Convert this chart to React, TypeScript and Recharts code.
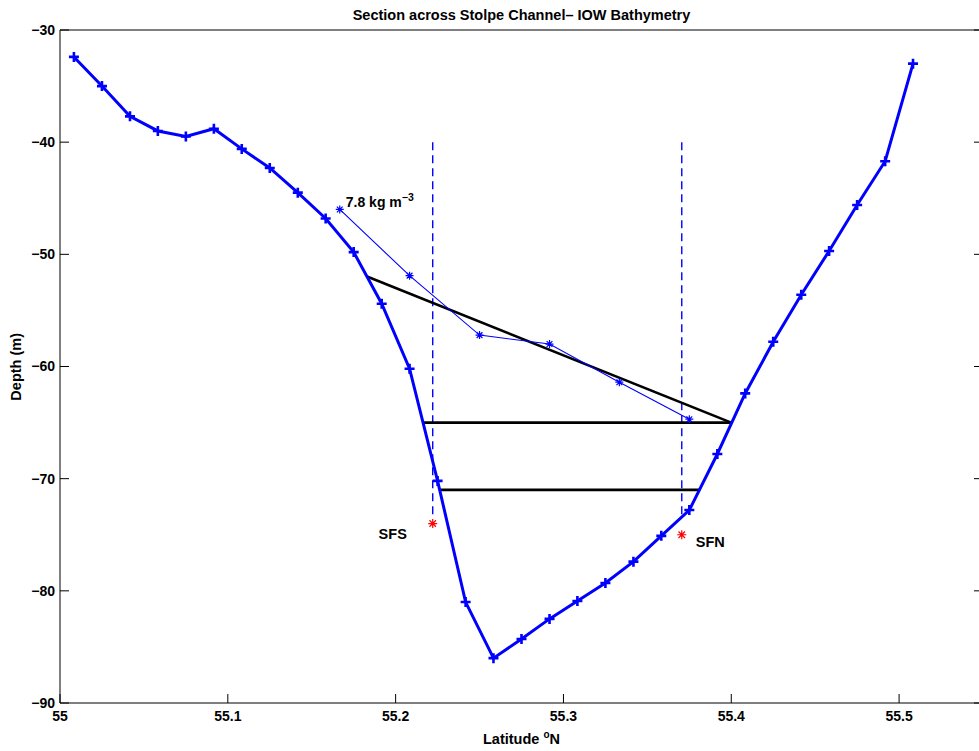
import React from 'react';
import { ComposedChart, Line, XAxis, YAxis, ReferenceDot } from 'recharts';

const FONT = '"Liberation Sans", Arial, Helvetica, sans-serif';

// Bathymetry section (latitude °N, depth m)
const bathyLat = [55.0083, 55.025, 55.0417, 55.0583, 55.075, 55.0917, 55.1083, 55.125, 55.1417, 55.1583, 55.175, 55.1917, 55.2083, 55.225, 55.2417, 55.2583, 55.275, 55.2917, 55.3083, 55.325, 55.3417, 55.3583, 55.375, 55.3917, 55.4083, 55.425, 55.4417, 55.4583, 55.475, 55.4917, 55.5083];
const bathyDepth = [-32.4, -35.0, -37.7, -39.0, -39.5, -38.8, -40.6, -42.3, -44.5, -46.8, -49.8, -54.4, -60.2, -70.2, -81.0, -86.0, -84.3, -82.5, -80.9, -79.3, -77.4, -75.1, -72.8, -67.8, -62.4, -57.8, -53.6, -49.7, -45.6, -41.7, -33.0];

// 7.8 kg m-3 isopycnal
const densLat = [55.1667, 55.2083, 55.25, 55.2917, 55.3333, 55.375];
const densDepth = [-46.0, -51.9, -57.2, -58.0, -61.4, -64.7];

// Black schematic lines
const slopeLat = [55.1833, 55.4];
const slopeDepth = [-52.0, -65.0];
const level1Lat = [55.2167, 55.4];
const level1Depth = [-65.0, -65.0];
const level2Lat = [55.2267, 55.381];
const level2Depth = [-71.0, -71.0];

// Stations
const stationNames = ['SFS', 'SFN'];
const stationLat = [55.2221, 55.3705];
const stationDepth = [-74.0, -75.0];
const dashTop = [-40.0, -40.0];
const dashBottom = [-73.6, -73.3];

const xTicks = [55, 55.1, 55.2, 55.3, 55.4, 55.5];
const yTicks = [-90, -80, -70, -60, -50, -40, -30];

const zip = (lat: number[], dep: number[]) => lat.map((l, i) => ({ lat: l, depth: dep[i] }));
const bathy = zip(bathyLat, bathyDepth);
const dens = zip(densLat, densDepth);
const slope = zip(slopeLat, slopeDepth);
const level1 = zip(level1Lat, level1Depth);
const level2 = zip(level2Lat, level2Depth);
const stations = zip(stationLat, stationDepth);
const dashes = stationLat.map((l, i) => [
  { lat: l, depth: dashTop[i] },
  { lat: l, depth: dashBottom[i] },
]);

const plusDot = (props: any) => {
  const { cx, cy, index } = props;
  if (cx == null || cy == null) return <g key={index} />;
  const r = 5;
  return (
    <path key={index} d={`M${cx - r},${cy}H${cx + r}M${cx},${cy - r}V${cy + r}`} stroke="#0000ff" strokeWidth={2.6} fill="none" />
  );
};

const starDot = (color: string, r: number) => (props: any) => {
  const { cx, cy, index } = props;
  if (cx == null || cy == null) return <g key={index} />;
  const d = r * 0.72;
  return (
    <path
      key={index}
      d={`M${cx - r},${cy}H${cx + r}M${cx},${cy - r}V${cy + r}M${cx - d},${cy - d}L${cx + d},${cy + d}M${cx - d},${cy + d}L${cx + d},${cy - d}`}
      stroke={color}
      strokeWidth={1.2}
      fill="none"
    />
  );
};

const xFmt = (v: number) => (Number.isInteger(v) ? String(v) : v.toFixed(1));
const yFmt = (v: number) => (v < 0 ? '\u2212' + String(Math.abs(v)) : String(v));
const empty = () => '';

const tickStyle = { fill: '#000', fontSize: 14, fontWeight: 'bold', fontFamily: FONT };
const textStyle: any = { fill: '#000', fontSize: 14.5, fontWeight: 'bold', fontFamily: FONT };

export default function App() {
  return (
    <div style={{ position: 'fixed', left: 0, top: 0, width: 979, height: 751, overflow: 'hidden', background: '#fff' }}>
      <ComposedChart width={1000} height={751} margin={{ top: 29, right: 16, bottom: 47, left: 59 }}>
        <XAxis
          xAxisId={0}
          dataKey="lat"
          type="number"
          domain={[55, 55.55]}
          allowDataOverflow
          ticks={xTicks}
          tickFormatter={xFmt}
          height={1}
          tickSize={-9}
          tickMargin={17}
          stroke="#000"
          tick={tickStyle}
        />
        <XAxis
          xAxisId="top"
          orientation="top"
          type="number"
          domain={[55, 55.55]}
          allowDataOverflow
          ticks={xTicks}
          tickFormatter={empty}
          height={1}
          tickSize={-9}
          stroke="#000"
        />
        <YAxis
          yAxisId={0}
          dataKey="depth"
          type="number"
          domain={[-90, -30]}
          allowDataOverflow
          ticks={yTicks}
          tickFormatter={yFmt}
          width={1}
          tickSize={-9}
          tickMargin={14}
          stroke="#000"
          tick={tickStyle}
        />
        <YAxis
          yAxisId="right"
          orientation="right"
          type="number"
          domain={[-90, -30]}
          allowDataOverflow
          ticks={yTicks}
          tickFormatter={empty}
          width={1}
          tickSize={-9}
          stroke="#000"
        />

        {dashes.map((d, i) => (
          <Line
            key={'dash' + i}
            data={d}
            dataKey="depth"
            stroke="#0000ff"
            strokeWidth={1.4}
            strokeDasharray="8 5"
            dot={false}
            activeDot={false}
            isAnimationActive={false}
          />
        ))}
        <Line data={slope} dataKey="depth" stroke="#000" strokeWidth={2.6} dot={false} activeDot={false} isAnimationActive={false} />
        <Line data={level1} dataKey="depth" stroke="#000" strokeWidth={2.6} dot={false} activeDot={false} isAnimationActive={false} />
        <Line data={level2} dataKey="depth" stroke="#000" strokeWidth={2.6} dot={false} activeDot={false} isAnimationActive={false} />
        <Line data={dens} dataKey="depth" stroke="#0000ff" strokeWidth={1.1} dot={starDot('#0000ff', 4)} activeDot={false} isAnimationActive={false} />
        <Line data={bathy} dataKey="depth" stroke="#0000ff" strokeWidth={3} dot={plusDot} activeDot={false} isAnimationActive={false} />
        <Line data={stations} dataKey="depth" stroke="none" dot={starDot('#ff0000', 4.5)} activeDot={false} isAnimationActive={false} />

        <ReferenceDot
          x={stationLat[0]}
          y={stationDepth[0]}
          r={0}
          fill="none"
          stroke="none"
          label={{
            content: (p: any) => (
              <text x={p.viewBox.x - 40} y={p.viewBox.y + 15} textAnchor="middle" style={textStyle}>
                {stationNames[0]}
              </text>
            ),
          }}
        />
        <ReferenceDot
          x={stationLat[1]}
          y={stationDepth[1]}
          r={0}
          fill="none"
          stroke="none"
          label={{
            content: (p: any) => (
              <text x={p.viewBox.x + 28.5} y={p.viewBox.y + 12} textAnchor="middle" style={textStyle}>
                {stationNames[1]}
              </text>
            ),
          }}
        />
        <ReferenceDot
          x={densLat[0]}
          y={densDepth[0]}
          r={0}
          fill="none"
          stroke="none"
          label={{
            content: (p: any) => (
              <text x={p.viewBox.x + 6} y={p.viewBox.y - 2} textAnchor="start" style={{ ...textStyle, fontSize: 14 }}>
                7.8 kg m
                <tspan dy={-6} style={{ fontSize: 10.5 }}>{'\u22123'}</tspan>
              </text>
            ),
          }}
        />

        <g>
          <text x={521.5} y={19.5} textAnchor="middle" style={textStyle}>
            Section across Stolpe Channel– IOW Bathymetry
          </text>
          <text x={521.5} y={744} textAnchor="middle" style={textStyle}>
            Latitude <tspan dy={-6} style={{ fontSize: 10 }}>o</tspan>
            <tspan dy={6}>N</tspan>
          </text>
          <text transform="translate(20.5, 366.8) rotate(-90)" textAnchor="middle" style={textStyle}>
            Depth (m)
          </text>
        </g>
      </ComposedChart>
    </div>
  );
}
